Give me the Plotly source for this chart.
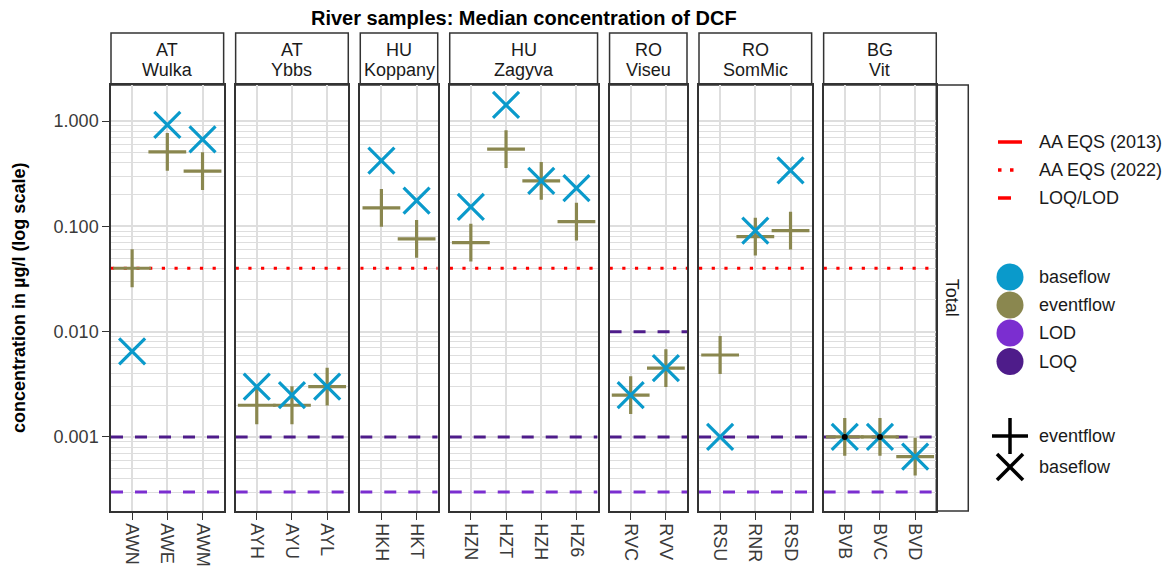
import plotly.graph_objects as go

# ---------------------------------------------------------------- data
site_labels = [("AT", "Wulka"), ("AT", "Ybbs"), ("HU", "Koppany"), ("HU", "Zagyva"),
               ("RO", "Viseu"), ("RO", "SomMic"), ("BG", "Vit")]
site_stations = [["AWN", "AWE", "AWM"], ["AYH", "AYU", "AYL"], ["HKH", "HKT"],
                 ["HZN", "HZT", "HZH", "HZ6"], ["RVC", "RVV"], ["RSU", "RNR", "RSD"],
                 ["BVB", "BVC", "BVD"]]

# median DCF concentration (µg/l) per station, same order as site_stations flattened
baseflow = [0.0065, 0.92, 0.67,
            0.0030, 0.0025, 0.0030,
            0.42, 0.175,
            0.153, 1.42, 0.27, 0.23,
            0.0025, 0.0045,
            0.0010, 0.091, 0.34,
            0.0010, 0.0010, 0.00065]
eventflow = [0.040, 0.51, 0.335,
             0.0020, 0.0020, 0.0030,
             0.150, 0.076,
             0.070, 0.54, 0.27, 0.111,
             0.0025, 0.0045,
             0.0060, 0.080, 0.091,
             0.0010, 0.0010, 0.00065]

# stations whose median sits at the quantification limit
at_limit_stations = ["BVB", "BVC"]
at_limit_values = [0.001, 0.001]

# thresholds
aa_eqs_2022 = 0.04
site_loq = [[0.001], [0.001], [0.001], [0.001], [0.001, 0.01], [0.001], [0.001]]
site_lod = [0.0003, 0.0003, 0.0003, 0.0003, 0.0003, 0.0003, 0.0003]

y_major = [0.001, 0.01, 0.1, 1.0]
y_major_text = ["0.001", "0.010", "0.100", "1.000"]
y_minor = [d * 10.0 ** k for k in range(-4, 0) for d in range(2, 10)]

# ---------------------------------------------------------------- style
W, H = 1173, 568
FONT = "Liberation Sans"
C_BASE = "#0A9ACB"
C_EVENT = "#8A874F"
C_LOD = "#7B2ED0"
C_LOQ = "#4E1C8A"
C_RED = "#FF0000"
GRID = "#DEDEDE"
BORDER = "#333333"
TXT = "#1A1A1A"

PANEL_LEFT = 111.0
UNIT = 35.2          # px per discrete x unit
GAP = 12.0
TOP, BOTTOM = 85.0, 511.0
STRIP_TOP = 33.0

def px(x):
    return x / W

def py(y):
    return 1 - y / H

fig = go.Figure()
shapes, annotations = [], []
layout = {}

flat_index = 0
left = PANEL_LEFT
for i, (labels, stations) in enumerate(zip(site_labels, site_stations)):
    n = len(stations)
    width = (n - 1 + 1.2) * UNIT
    right = left + width
    k = "" if i == 0 else str(i + 1)
    xa, ya = "x" + k, "y" + k

    pos = list(range(n))
    base_vals = baseflow[flat_index:flat_index + n]
    event_vals = eventflow[flat_index:flat_index + n]
    flat_index += n

    xr = [-0.6, n - 0.4]
    # reference lines
    fig.add_trace(go.Scatter(x=xr, y=[site_lod[i]] * 2, mode="lines", xaxis=xa, yaxis=ya,
                             line=dict(color=C_LOD, width=3, dash="12px,12px"),
                             showlegend=False, hoverinfo="skip"))
    for q in site_loq[i]:
        fig.add_trace(go.Scatter(x=xr, y=[q] * 2, mode="lines", xaxis=xa, yaxis=ya,
                                 line=dict(color=C_LOQ, width=3, dash="12px,12px"),
                                 showlegend=False, hoverinfo="skip"))
    fig.add_trace(go.Scatter(x=xr, y=[aa_eqs_2022] * 2, mode="lines", xaxis=xa, yaxis=ya,
                             line=dict(color=C_RED, width=3.2, dash="3.2px,9.5px"),
                             showlegend=False, hoverinfo="skip"))

    # medians
    fig.add_trace(go.Scatter(x=pos, y=event_vals, mode="markers", xaxis=xa, yaxis=ya,
                             marker=dict(symbol="cross-thin", size=27,
                                         line=dict(color=C_EVENT, width=3.2)),
                             name="eventflow", showlegend=False))
    fig.add_trace(go.Scatter(x=pos, y=base_vals, mode="markers", xaxis=xa, yaxis=ya,
                             marker=dict(symbol="x-thin", size=26,
                                         line=dict(color=C_BASE, width=3.2)),
                             name="baseflow", showlegend=False))
    lim_x = [stations.index(s) for s in at_limit_stations if s in stations]
    lim_y = [v for s, v in zip(at_limit_stations, at_limit_values) if s in stations]
    if lim_x:
        fig.add_trace(go.Scatter(x=lim_x, y=lim_y, mode="markers", xaxis=xa, yaxis=ya,
                                 marker=dict(symbol="circle", size=6, color="black"),
                                 showlegend=False))

    layout["xaxis" + k] = dict(
        domain=[px(left), px(right)], anchor=ya, range=xr,
        tickmode="array", tickvals=pos, ticktext=stations, tickangle=90,
        showgrid=True, gridcolor=GRID, gridwidth=1.5, zeroline=False,
        showline=True, mirror=True, linecolor=BORDER, linewidth=1.5,
        ticks="outside", ticklen=7, tickwidth=1.3, tickcolor=BORDER,
        tickfont=dict(family=FONT, size=18, color="#3A3A3A"),
        fixedrange=True, automargin=False)
    layout["yaxis" + k] = dict(
        domain=[py(BOTTOM), py(TOP)], anchor=xa, type="log",
        range=[-3.703, 0.342],
        tickmode="array", tickvals=y_major, ticktext=y_major_text,
        showticklabels=(i == 0),
        ticks="outside" if i == 0 else "", ticklen=7, tickwidth=1.3, tickcolor=BORDER,
        tickfont=dict(family=FONT, size=18, color="#3A3A3A"),
        showgrid=True, gridcolor=GRID, gridwidth=1.5, zeroline=False,
        minor=dict(tickmode="array", tickvals=y_minor, showgrid=True,
                   gridcolor=GRID, gridwidth=1.3, ticks=""),
        showline=True, mirror=True, linecolor=BORDER, linewidth=1.5,
        fixedrange=True, automargin=False)

    # facet strip
    shapes.append(dict(type="rect", xref="paper", yref="paper",
                       x0=px(left), x1=px(right), y0=py(TOP), y1=py(STRIP_TOP),
                       line=dict(color=BORDER, width=1.5), fillcolor="white", layer="below"))
    cx = px((left + right) / 2)
    for j, txt in enumerate(labels):
        annotations.append(dict(text=txt, x=cx, y=py(50 + 20 * j), xref="paper", yref="paper",
                                showarrow=False, xanchor="center", yanchor="middle",
                                font=dict(family=FONT, size=18, color=TXT)))
    last_right = right
    left = right + GAP

# right-hand strip
shapes.append(dict(type="rect", xref="paper", yref="paper",
                   x0=px(last_right), x1=px(last_right + 32), y0=py(BOTTOM), y1=py(TOP),
                   line=dict(color=BORDER, width=1.5), fillcolor="white", layer="below"))
annotations.append(dict(text="Total", x=px(last_right + 16), y=py((TOP + BOTTOM) / 2),
                        xref="paper", yref="paper", showarrow=False, textangle=90,
                        xanchor="center", yanchor="middle",
                        font=dict(family=FONT, size=18, color=TXT)))

# titles
annotations.append(dict(text="<b>River samples: Median concentration of DCF</b>",
                        x=px((PANEL_LEFT + last_right) / 2), y=py(18), xref="paper", yref="paper",
                        showarrow=False, xanchor="center", yanchor="middle",
                        font=dict(family=FONT, size=20, color="black")))
annotations.append(dict(text="<b>concentration in µg/l (log scale)</b>",
                        x=px(19), y=py((TOP + BOTTOM) / 2), xref="paper", yref="paper",
                        showarrow=False, textangle=-90, xanchor="center", yanchor="middle",
                        font=dict(family=FONT, size=18, color="black")))

# ---------------------------------------------------------------- legend
KEY_X = 1010
TEXT_X = 1037

def legend_text(txt, y):
    annotations.append(dict(text=txt, x=px(TEXT_X), y=py(y), xref="paper", yref="paper",
                            showarrow=False, xanchor="left", yanchor="middle",
                            font=dict(family=FONT, size=18, color=TXT)))

# threshold line types
line_keys = [("AA EQS (2013)", 142, "solid", 1022),
             ("AA EQS (2022)", 170, "3.5px,8.5px", 1022),
             ("LOQ/LOD", 198, "solid", 1011)]
for txt, y, dash, x1 in line_keys:
    shapes.append(dict(type="line", xref="paper", yref="paper",
                       x0=px(998), x1=px(x1), y0=py(y), y1=py(y),
                       line=dict(color=C_RED, width=3.5, dash=dash)))
    legend_text(txt, y)

# colours
color_keys = [("baseflow", C_BASE, 277), ("eventflow", C_EVENT, 305),
              ("LOD", C_LOD, 333), ("LOQ", C_LOQ, 361.5)]
R = 13.5
for txt, col, y in color_keys:
    shapes.append(dict(type="circle", xref="paper", yref="paper",
                       x0=px(KEY_X - R), x1=px(KEY_X + R), y0=py(y + R), y1=py(y - R),
                       fillcolor=col, line=dict(width=0)))
    legend_text(txt, y)

# shapes (+ / x)
yp, yx = 436, 467
shapes += [
    dict(type="line", xref="paper", yref="paper", x0=px(KEY_X - 18), x1=px(KEY_X + 18),
         y0=py(yp), y1=py(yp), line=dict(color="black", width=3.5)),
    dict(type="line", xref="paper", yref="paper", x0=px(KEY_X), x1=px(KEY_X),
         y0=py(yp - 18), y1=py(yp + 18), line=dict(color="black", width=3.5)),
    dict(type="line", xref="paper", yref="paper", x0=px(KEY_X - 13), x1=px(KEY_X + 13),
         y0=py(yx - 13), y1=py(yx + 13), line=dict(color="black", width=3.5)),
    dict(type="line", xref="paper", yref="paper", x0=px(KEY_X - 13), x1=px(KEY_X + 13),
         y0=py(yx + 13), y1=py(yx - 13), line=dict(color="black", width=3.5)),
]
legend_text("eventflow", yp)
legend_text("baseflow", yx)

fig.update_layout(
    width=W, height=H, template="none",
    margin=dict(l=0, r=0, t=0, b=0),
    paper_bgcolor="white", plot_bgcolor="white",
    showlegend=False, shapes=shapes, annotations=annotations,
    font=dict(family=FONT),
    **layout)

fig.write_html("out.html", config={"displayModeBar": False})
